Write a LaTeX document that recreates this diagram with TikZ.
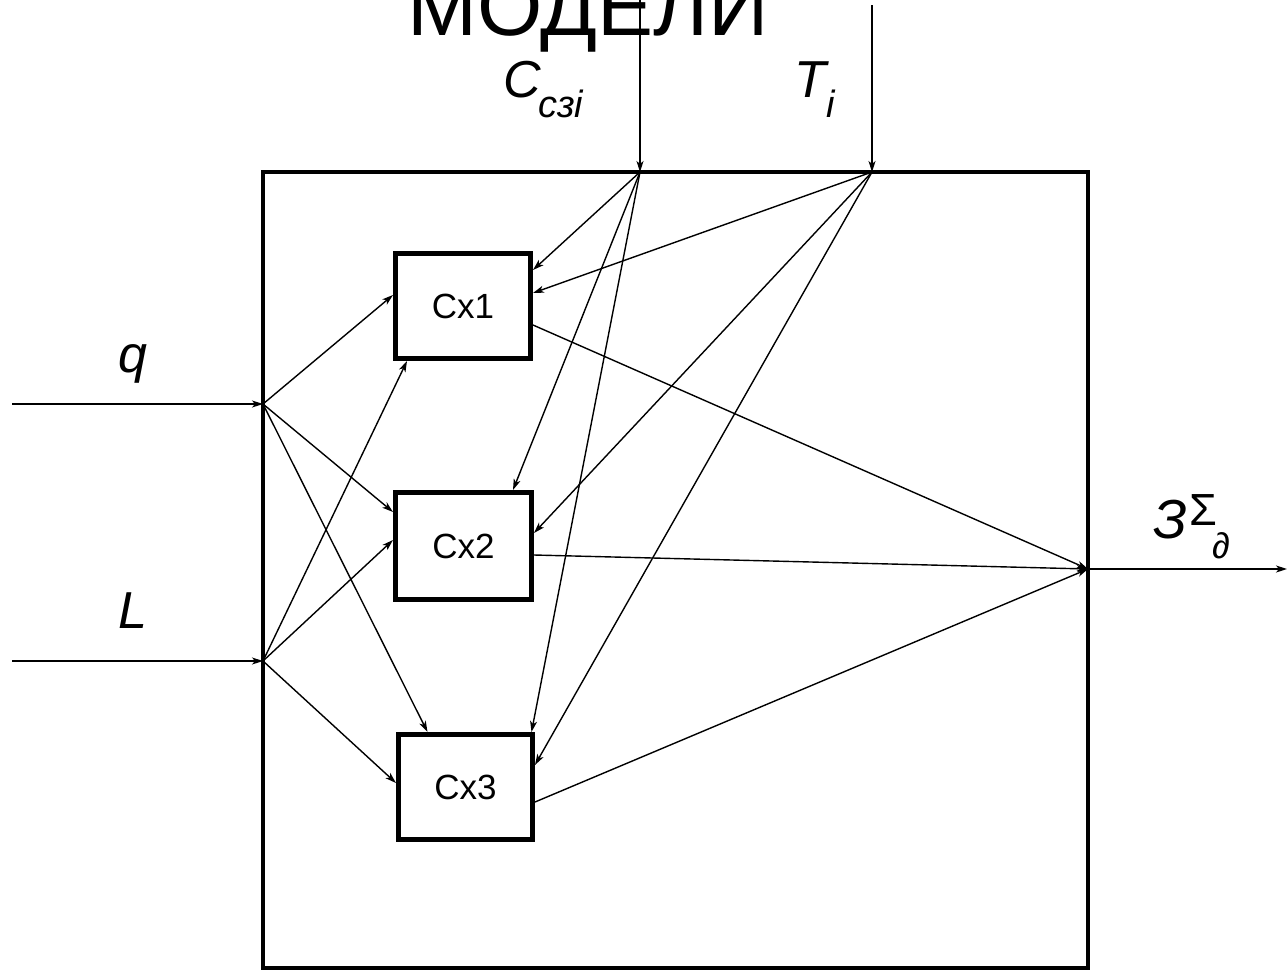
\documentclass[tikz,border=0pt]{standalone}
\usepackage{fontspec}
\setmainfont{Liberation Sans}
\usetikzlibrary{arrows.meta,calc}
\begin{document}
\begin{tikzpicture}[x=1pt,y=-1pt,
  conn/.style={line width=1.4pt,-{Stealth[length=11pt,width=7pt,inset=3pt]}},
  cxbox/.style={draw,line width=5pt,inner sep=0pt,font=\fontsize{35}{40}\selectfont},
  lbl/.style={font=\fontsize{52}{60}\selectfont\itshape,inner sep=0pt,anchor=base west},
  sub/.style={font=\fontsize{38}{44}\selectfont\itshape,inner sep=0pt,anchor=base west}]
\useasboundingbox (0,0) rectangle (1288,972);
% system box
\node[draw,line width=4.5pt,minimum width=825pt,minimum height=796pt,inner sep=0pt] (sys) at (675.5,570) {};
% title (cut off at top)
\node[font=\fontsize{84}{90}\selectfont,anchor=base west,inner sep=0pt] (title) at (407,35) {МОДЕЛИ};
% sub-boxes
\node[cxbox,minimum width=135pt,minimum height=105pt] (cx1) at (463,306) {Сх1};
\node[cxbox,minimum width=136pt,minimum height=107pt] (cx2) at (463.5,546) {Сх2};
\node[cxbox,minimum width=134pt,minimum height=105pt] (cx3) at (465.5,787) {Сх3};
% junction points
\coordinate (qp) at (263,404);
\coordinate (lp) at (263,661);
\coordinate (cp) at (640,172);
\coordinate (tp) at (872,172);
\coordinate (op) at (1088,569);
\coordinate (qin) at (12,404);
\coordinate (lin) at (12,661);
\coordinate (cin) at (640,0);
\coordinate (tin) at (872,5);
\coordinate (oout) at (1287,569);
% inputs
\draw[conn] (qin) -- (qp);
\draw[conn] (lin) -- (lp);
\draw[conn] (cin) -- (cp);
\draw[conn] (tin) -- (tp);
\draw[conn] (op) -- (oout);
% labels
\node[lbl] (ql) at (118,372) {q};
\node[lbl] (ll) at (118,628) {L};
\node[lbl] (cl) at (503,97) {C};
\node[sub] (cs) at (538,117) {сзі};
\node[lbl] (tl) at (794,97) {T};
\node[sub] (ts) at (826,117) {i};
\node[font=\fontsize{55}{60}\selectfont\itshape,inner sep=0pt,anchor=base west] (zl) at (1153,538) {З};
\node[font=\fontsize{45}{50}\selectfont,inner sep=0pt,anchor=base west] (zs) at (1189,525) {Σ};
\node[font=\fontsize{36}{40}\selectfont\itshape,inner sep=0pt,anchor=base west] (zd) at (1212,558) {∂};
% q fan
\draw[conn] (qp) -- ([yshift=11pt]cx1.west);
\draw[conn] (qp) -- ([yshift=34pt]cx2.west);
\draw[conn] (qp) -- ([xshift=-38pt]cx3.north);
% L fan
\draw[conn] (lp) -- ([xshift=-56pt]cx1.south);
\draw[conn] (lp) -- ([yshift=6pt]cx2.west);
\draw[conn] (lp) -- ([yshift=4pt]cx3.west);
% C fan
\draw[conn] (cp) -- ([yshift=36pt]cx1.east);
\draw[conn] (cp) -- ([xshift=49.5pt]cx2.north);
\draw[conn] (cp) -- ([xshift=66pt]cx3.north);
% T fan
\draw[conn] (tp) -- ([yshift=13pt]cx1.east);
\draw[conn] (tp) -- ([yshift=13pt]cx2.east);
\draw[conn] (tp) -- ([yshift=22pt]cx3.east);
% outputs
\draw[conn] ([yshift=-19pt]cx1.east) -- (op);
\draw[conn] ([yshift=-9pt]cx2.east) -- (op);
\draw[conn] ([yshift=-15pt]cx3.east) -- (op);
\end{tikzpicture}
\end{document}
